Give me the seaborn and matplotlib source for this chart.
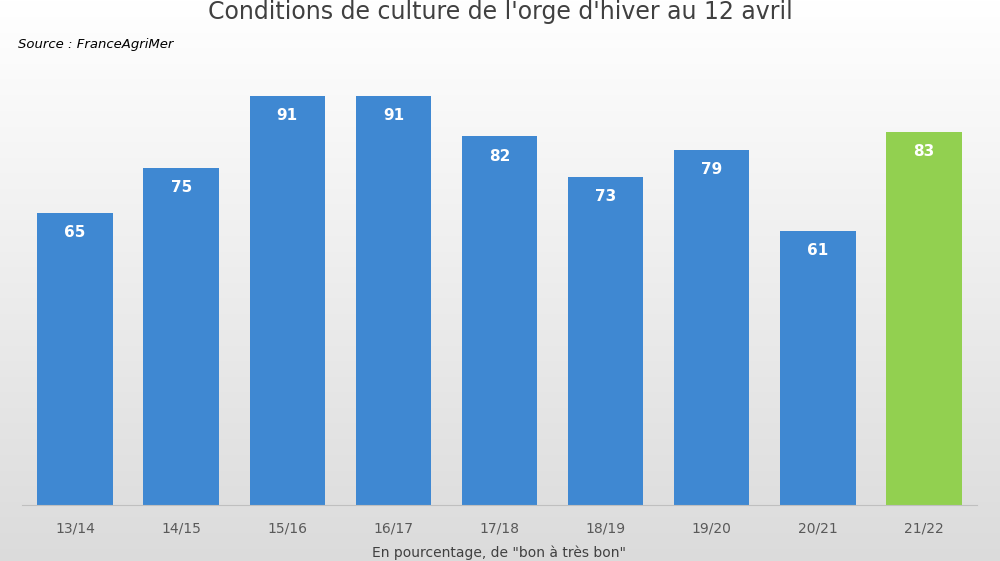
import matplotlib
matplotlib.use("Agg")
import matplotlib.pyplot as plt
import seaborn as sns
import numpy as np
import pandas as pd

campagnes = ["13/14", "14/15", "15/16", "16/17", "17/18", "18/19", "19/20", "20/21", "21/22"]
valeurs = [65, 75, 91, 91, 82, 73, 79, 61, 83]
couleurs = ["#3F88D2"] * 8 + ["#92D050"]

df = pd.DataFrame({"campagne": campagnes, "valeur": valeurs})

fig = plt.figure(figsize=(10, 5.61), dpi=100)
bg = fig.add_axes([0, 0, 1, 1], zorder=0)
grad = np.linspace(1.0, 0.86, 256).reshape(-1, 1)
bg.imshow(np.dstack([grad, grad, grad]), aspect="auto", extent=[0, 1, 0, 1])
bg.axis("off")

ax = fig.add_axes([0.022, 0.0998, 0.955, 0.802], zorder=1)
ax.patch.set_alpha(0)
sns.barplot(data=df, x="campagne", y="valeur", hue="campagne", palette=couleurs,
            legend=False, width=0.71, ax=ax, saturation=1)
ax.set_ylim(0, 100)
ax.set_yticks([])
for s in ["top", "right", "left"]:
    ax.spines[s].set_visible(False)
ax.spines["bottom"].set_color("#BFBFBF")
ax.tick_params(axis="x", length=0, colors="#595959", labelsize=10, pad=12)
ax.set_xlabel('En pourcentage, de "bon à très bon"', color="#404040", fontsize=10, labelpad=7)
ax.set_ylabel("")
for i, v in enumerate(valeurs):
    ax.text(i, v - 4.5, str(v), ha="center", va="center", color="white",
            fontsize=11, fontweight="bold")

fig.text(0.5, 0.978, "Conditions de culture de l'orge d'hiver au 12 avril",
         ha="center", va="center", fontsize=17, color="#404040")
fig.text(0.018, 0.92, "Source : FranceAgriMer", ha="left", va="center",
         fontsize=9.5, style="italic", color="black")

fig.savefig("out.png", dpi=100)
